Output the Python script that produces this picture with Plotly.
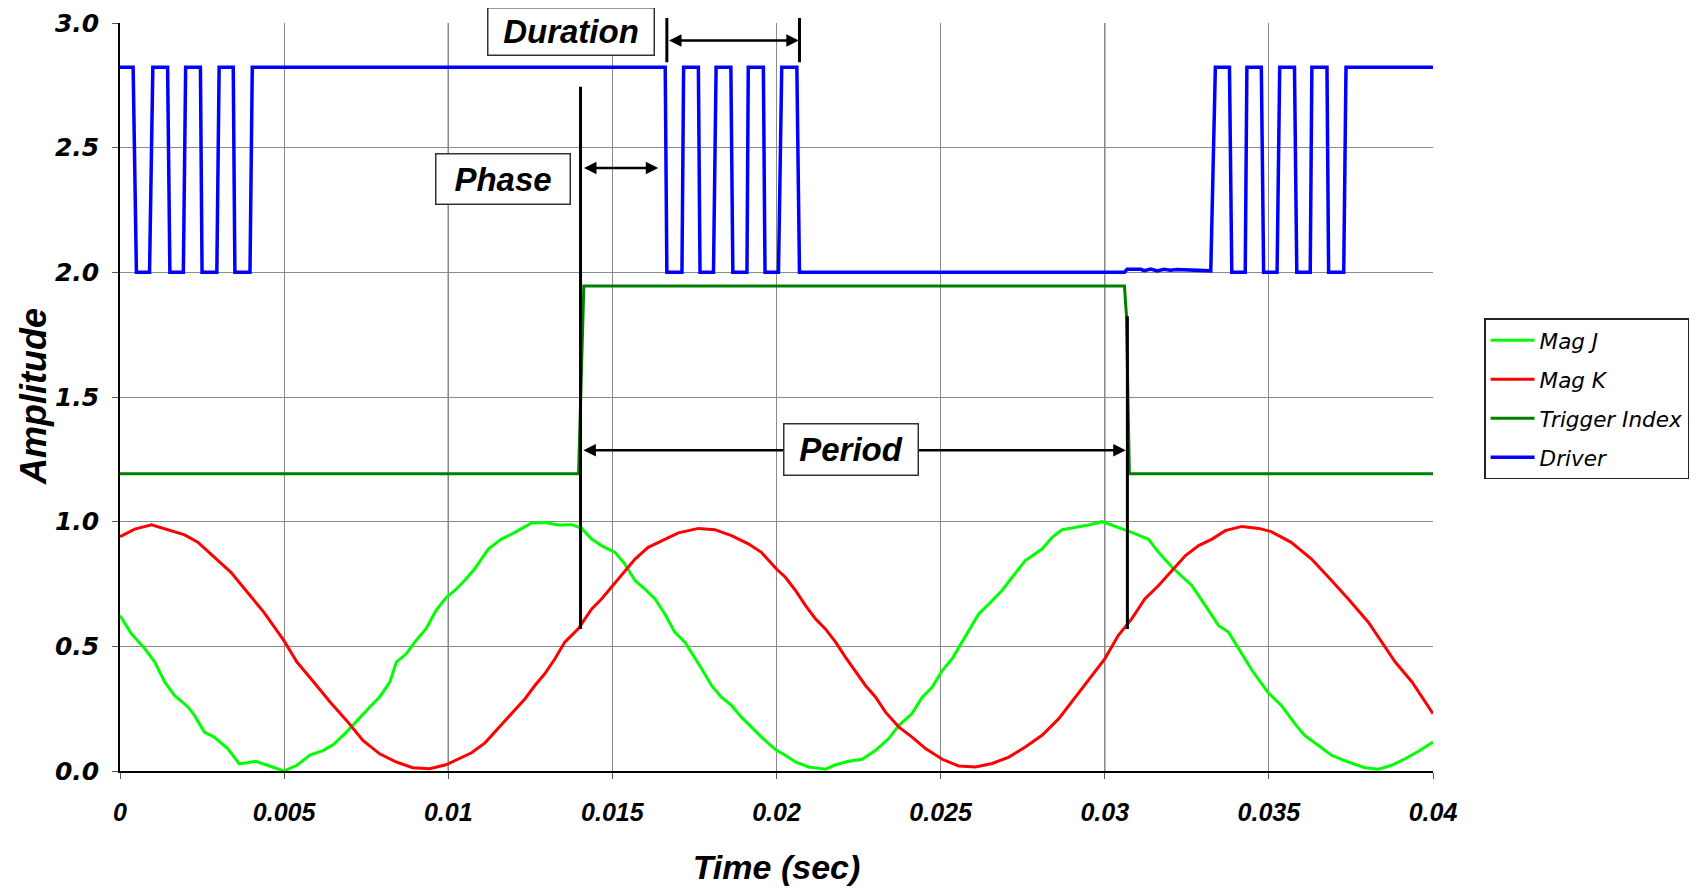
import plotly.graph_objects as go

# ---------------- data ----------------
MAG_J_T = [0.0, 0.00035, 0.00076, 0.00106, 0.00136, 0.00166, 0.00207, 0.00227, 0.00257, 0.00287,
           0.00328, 0.00363, 0.00388, 0.00413, 0.00449, 0.00499, 0.00539, 0.0058, 0.0062, 0.0065,
           0.0069, 0.00731, 0.00761, 0.00791, 0.00822, 0.00842, 0.00872, 0.00902, 0.00932, 0.00963,
           0.00993, 0.0102, 0.0105, 0.0108, 0.01122, 0.01162, 0.01203, 0.01254, 0.01294, 0.01335,
           0.01376, 0.01406, 0.01437, 0.01467, 0.01508, 0.01538, 0.01569, 0.01599, 0.0163, 0.0166,
           0.0169, 0.01721, 0.01741, 0.01772, 0.01802, 0.01832, 0.01863, 0.01893, 0.01924, 0.01954,
           0.01985, 0.02, 0.02027, 0.02058, 0.02098, 0.02149, 0.0218, 0.0222, 0.02261, 0.02302,
           0.02342, 0.02373, 0.02413, 0.02444, 0.02474, 0.02505, 0.02535, 0.02565, 0.02596, 0.02616,
           0.02647, 0.02687, 0.02718, 0.02758, 0.02809, 0.0284, 0.0287, 0.02911, 0.02951, 0.02992,
           0.03041, 0.03082, 0.03133, 0.03164, 0.03205, 0.03265, 0.03306, 0.03347, 0.03377, 0.03408,
           0.03449, 0.03497, 0.03538, 0.03579, 0.03609, 0.0365, 0.03691, 0.03742, 0.03793, 0.03834,
           0.03874, 0.03915, 0.03956, 0.04]
MAG_J_V = [0.624, 0.55, 0.49, 0.437, 0.357, 0.303, 0.257, 0.223, 0.156, 0.136,
           0.09, 0.029, 0.033, 0.039, 0.023, 0.0, 0.023, 0.065, 0.083, 0.106,
           0.156, 0.216, 0.257, 0.297, 0.357, 0.437, 0.47, 0.524, 0.57, 0.644,
           0.695, 0.724, 0.764, 0.81, 0.89, 0.93, 0.957, 0.995, 0.997, 0.987,
           0.988, 0.973, 0.93, 0.904, 0.877, 0.83, 0.764, 0.73, 0.69, 0.63,
           0.557, 0.517, 0.477, 0.41, 0.343, 0.296, 0.263, 0.216, 0.176, 0.136,
           0.1, 0.083, 0.063, 0.036, 0.016, 0.007, 0.025, 0.039, 0.047, 0.083,
           0.13, 0.183, 0.23, 0.296, 0.336, 0.403, 0.45, 0.517, 0.583, 0.63,
           0.67, 0.724, 0.777, 0.844, 0.89, 0.937, 0.968, 0.977, 0.987, 1.0,
           0.977, 0.957, 0.93, 0.877, 0.817, 0.744, 0.664, 0.583, 0.557, 0.49,
           0.403, 0.316, 0.263, 0.19, 0.143, 0.103, 0.063, 0.036, 0.013, 0.007,
           0.023, 0.049, 0.079, 0.116]

MAG_K_T = [0.0, 0.00045, 0.00096, 0.00146, 0.00197, 0.00237, 0.00287, 0.00338, 0.00388, 0.00438,
           0.00499, 0.00539, 0.0059, 0.0064, 0.0069, 0.0074, 0.00791, 0.00842, 0.00892, 0.00943,
           0.00993, 0.0103, 0.01071, 0.01112, 0.01152, 0.01193, 0.01234, 0.01264, 0.01294, 0.01325,
           0.01355, 0.01396, 0.01437, 0.01467, 0.01497, 0.01528, 0.01569, 0.01609, 0.0165, 0.01701,
           0.01762, 0.01812, 0.01863, 0.01914, 0.01954, 0.02, 0.02027, 0.02058, 0.02088, 0.02119,
           0.02149, 0.0218, 0.0221, 0.02241, 0.02271, 0.02302, 0.02332, 0.02373, 0.02413, 0.02454,
           0.02505, 0.02555, 0.02606, 0.02657, 0.02708, 0.02758, 0.02809, 0.0286, 0.02911, 0.02961,
           0.03, 0.03041, 0.03082, 0.03122, 0.03164, 0.03205, 0.03246, 0.03286, 0.03327, 0.03367,
           0.03418, 0.03469, 0.03507, 0.03568, 0.0363, 0.03691, 0.03742, 0.03803, 0.03854, 0.03885,
           0.03936, 0.04]
MAG_K_V = [0.94, 0.97, 0.987, 0.968, 0.947, 0.918, 0.857, 0.797, 0.717, 0.637,
           0.524, 0.437, 0.357, 0.277, 0.203, 0.123, 0.069, 0.036, 0.013, 0.009,
           0.025, 0.047, 0.073, 0.113, 0.17, 0.23, 0.29, 0.343, 0.39, 0.45,
           0.517, 0.57, 0.65, 0.69, 0.737, 0.784, 0.85, 0.897, 0.924, 0.955,
           0.973, 0.968, 0.944, 0.911, 0.877, 0.81, 0.777, 0.724, 0.664, 0.61,
           0.57, 0.517, 0.457, 0.397, 0.343, 0.296, 0.236, 0.176, 0.136, 0.09,
           0.047, 0.02, 0.016, 0.03, 0.056, 0.096, 0.143, 0.21, 0.296, 0.383,
           0.45, 0.543, 0.61, 0.69, 0.744, 0.804, 0.864, 0.904, 0.93, 0.964,
           0.981, 0.973, 0.96, 0.917, 0.85, 0.764, 0.69, 0.597, 0.497, 0.437,
           0.357, 0.23]

TRIGGER_T = [0.0, 0.01397, 0.01413, 0.0306, 0.03066, 0.03075, 0.04]
TRIGGER_V = [1.192, 1.192, 1.945, 1.945, 1.83, 1.192, 1.192]

DRIVER_T = [0.0, 0.0004, 0.0005, 0.0009, 0.001, 0.00145, 0.00152, 0.00193, 0.002, 0.00245,
            0.0025, 0.00295, 0.00302, 0.00345, 0.0035, 0.00396, 0.00403,
            0.01661, 0.01666, 0.01712, 0.01717, 0.01762, 0.01767, 0.01808, 0.01816, 0.01861,
            0.01867, 0.0191, 0.01914, 0.0196, 0.01965, 0.02006, 0.02016, 0.02062, 0.0207,
            0.0306, 0.03068, 0.0311, 0.0312, 0.0314, 0.0316, 0.0318, 0.0320, 0.0322, 0.03323,
            0.03337, 0.0338, 0.03387, 0.03428, 0.03433, 0.03477, 0.03484, 0.03525, 0.03533,
            0.03578, 0.03585, 0.03626, 0.03631, 0.03677, 0.03682, 0.03728, 0.03735, 0.04]
DRIVER_V = [2.823, 2.823, 2.0, 2.0, 2.823, 2.823, 2.0, 2.0, 2.823, 2.823,
            2.0, 2.0, 2.823, 2.823, 2.0, 2.0, 2.823,
            2.823, 2.0, 2.0, 2.823, 2.823, 2.0, 2.0, 2.823, 2.823,
            2.0, 2.0, 2.823, 2.823, 2.0, 2.0, 2.823, 2.823, 2.0,
            2.0, 2.012, 2.012, 2.007, 2.013, 2.006, 2.012, 2.008, 2.011, 2.006,
            2.823, 2.823, 2.0, 2.0, 2.823, 2.823, 2.0, 2.0, 2.823,
            2.823, 2.0, 2.0, 2.823, 2.823, 2.0, 2.0, 2.823, 2.823]

SERIES_NAMES = ["Mag J", "Mag K", "Trigger Index", "Driver"]

X_TICKS = [0, 0.005, 0.01, 0.015, 0.02, 0.025, 0.03, 0.035, 0.04]
X_TICK_TEXT = ["0", "0.005", "0.01", "0.015", "0.02", "0.025", "0.03", "0.035", "0.04"]
Y_TICKS = [0.0, 0.5, 1.0, 1.5, 2.0, 2.5, 3.0]
Y_TICK_TEXT = ["0.0", "0.5", "1.0", "1.5", "2.0", "2.5", "3.0"]
X_TITLE = "Time (sec)"
Y_TITLE = "Amplitude"

# annotation content (time, amplitude)
LABELS = ["Duration", "Phase", "Period"]
LABEL_T = [0.013754, 0.011677, 0.022256]
LABEL_V = [2.965, 2.375, 1.288]
DOUBLE_ARROWS = [(0.01668, 0.02068, 2.93), (0.01409, 0.0164, 2.418), (0.01407, 0.03064, 1.286)]
MARKER_BARS = [(0.01666, 2.843, 3.026), (0.0207, 2.843, 3.026),
               (0.01403, 0.57, 2.75), (0.03069, 0.57, 1.83)]
DARK_GRID_X = [0.01, 0.02, 0.03]

# ---------------- styles ----------------
COLORS = ["#00ff00", "#ff0000", "#008000", "#0000ff"]
WIDTHS = [3, 3, 3, 3.5]
BOX_W = [165, 133, 133]
BOX_H = [46, 49, 50]
BOLD_IT = dict(family="Liberation Sans, Arial", color="black", weight="bold", style="italic")

fig = go.Figure()
series = [(MAG_J_T, MAG_J_V), (MAG_K_T, MAG_K_V), (TRIGGER_T, TRIGGER_V), (DRIVER_T, DRIVER_V)]
for i, (t, v) in enumerate(series):
    fig.add_trace(go.Scatter(x=t, y=v, mode="lines", name=SERIES_NAMES[i],
                             legendgroup=SERIES_NAMES[i],
                             line=dict(color=COLORS[i], width=WIDTHS[i])))

for xv in DARK_GRID_X:
    fig.add_shape(type="line", xref="x", yref="paper", x0=xv, x1=xv, y0=0, y1=1,
                  line=dict(color="#000000", width=1), layer="below")

annotations = []
# vertical marker bars (annotation arrows so they may extend beyond the plot area)
for (t, v0, v1) in MARKER_BARS:
    annotations.append(dict(x=t, y=v0, ax=t, ay=v1, xref="x", yref="y", axref="x", ayref="y",
                            text="", showarrow=True, arrowhead=0, arrowwidth=3,
                            arrowcolor="#000000", standoff=0, startstandoff=0))
for (t0, t1, v) in DOUBLE_ARROWS:
    annotations.append(dict(x=t1, y=v, ax=t0, ay=v, xref="x", yref="y", axref="x", ayref="y",
                            text="", showarrow=True, arrowhead=2, startarrowhead=2,
                            arrowside="end+start", arrowsize=1, startarrowsize=1,
                            arrowwidth=2.5, arrowcolor="#000000", standoff=0, startstandoff=0))
for i, lab in enumerate(LABELS):
    annotations.append(dict(x=LABEL_T[i], y=LABEL_V[i], xref="x", yref="y", text=lab,
                            showarrow=False, bgcolor="white", bordercolor="#333333",
                            borderwidth=1.5, borderpad=0, width=BOX_W[i], height=BOX_H[i],
                            font=dict(size=33, **BOLD_IT)))
# y-axis title
annotations.append(dict(x=0, y=0.5, xref="paper", yref="paper", xshift=-87, text=Y_TITLE,
                        textangle=-90, showarrow=False, xanchor="center", yanchor="middle",
                        font=dict(size=36, **BOLD_IT)))

# page body has an 8px default margin; figure sized so the page fills 1705x892
fig.update_layout(
    width=1697, height=884,
    margin=dict(l=112, r=272, t=15, b=121, autoexpand=False),
    paper_bgcolor="white", plot_bgcolor="white",
    showlegend=True,
    legend=dict(x=1.0389, y=0.6052, xanchor="left", yanchor="top",
                bgcolor="white", bordercolor="#222222", borderwidth=1.5,
                tracegroupgap=8, itemwidth=44,
                font=dict(family="DejaVu Sans", size=21.5, color="black", style="italic")),
    annotations=annotations,
)

fig.update_xaxes(range=[0, 0.04], tickmode="array", tickvals=X_TICKS, ticktext=X_TICK_TEXT,
                 automargin=False,
                 showgrid=True, gridcolor="#8a8a8a", gridwidth=1, zeroline=False,
                 showline=True, linecolor="#000000", linewidth=1.5,
                 ticks="outside", ticklen=6, tickcolor="#555555", ticklabelstandoff=12,
                 tickfont=dict(size=25, **BOLD_IT),
                 title=dict(text=X_TITLE, standoff=30, font=dict(size=34, **BOLD_IT)))
fig.update_yaxes(range=[0, 3], tickmode="array", tickvals=Y_TICKS, ticktext=Y_TICK_TEXT,
                 automargin=False,
                 showgrid=True, gridcolor="#8a8a8a", gridwidth=1, zeroline=False,
                 showline=True, linecolor="#000000", linewidth=1.5,
                 ticks="outside", ticklen=6, tickcolor="#555555", ticklabelstandoff=8,
                 tickfont=dict(family="DejaVu Sans", size=25, color="black",
                               weight="bold", style="italic"))

fig.write_html("out.html")
